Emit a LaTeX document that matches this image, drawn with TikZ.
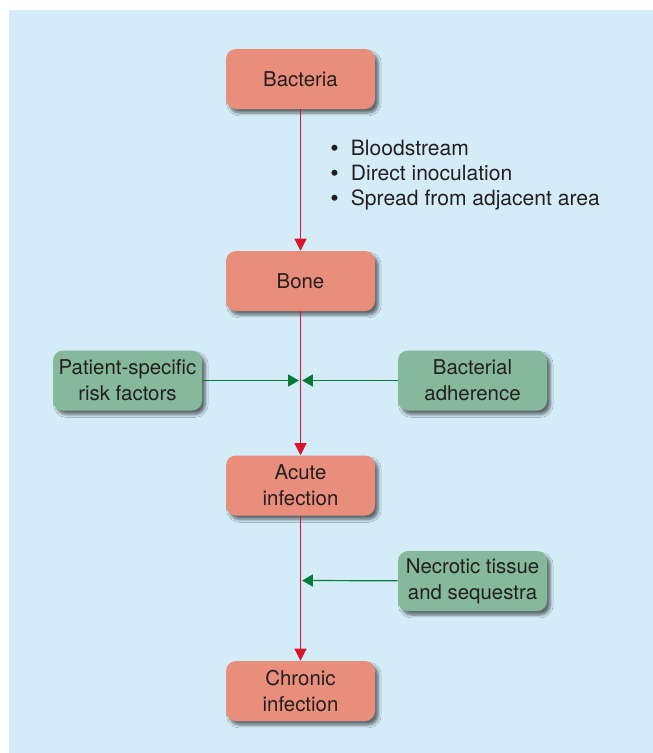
\documentclass[tikz,border=0pt]{standalone}
\usepackage{fontspec}
\setmainfont{TeX Gyre Heros}
\usetikzlibrary{arrows.meta,shadows.blur}

\definecolor{panelblue}{RGB}{212,236,248}
\definecolor{stagefill}{RGB}{233,142,122}
\definecolor{factorfill}{RGB}{134,184,155}
\definecolor{flowred}{RGB}{218,20,42}
\definecolor{flowgreen}{RGB}{10,122,58}
\definecolor{inktext}{RGB}{35,31,32}

\newcommand{\routebullet}{\makebox[15.5pt][l]{\raisebox{-0.4pt}{\fontsize{18}{18}\selectfont\textbullet}}}

\tikzset{
  stage/.style={rectangle, rounded corners=7.5pt, fill=stagefill, draw=none,
    minimum width=111.75pt, minimum height=45pt, align=center, text=inktext,
    font=\fontsize{15.3}{19.3}\selectfont,
    blur shadow={shadow xshift=2.5pt, shadow yshift=-3pt, shadow blur steps=6, shadow opacity=55}},
  factor/.style={stage, fill=factorfill},
  redflow/.style={draw=flowred, line width=0.9pt, -{Triangle[length=9pt,width=9pt]}},
  greenflow/.style={draw=flowgreen, line width=0.9pt, -{Triangle[length=8pt,width=9pt]}},
}

\begin{document}
\begin{tikzpicture}[x=0.75pt,y=0.75pt,yscale=-1,xscale=1]
	\useasboundingbox (0,0) rectangle (653,753);
	\fill[panelblue] (9,10) rectangle (653,753);

	% main chain
	\node[stage] (bacteria) at (300.5,79) {Bacteria};
	\node[stage] (bone) at (300.5,281) {Bone};
	\node[stage] (acute) at (300.5,485.5) {Acute\\infection};
	\node[stage] (chronic) at (300.5,691) {Chronic\\infection};

	% contributing factors
	\node[factor] (patient) at (127.5,380.5) {Patient-specific\\risk factors};
	\node[factor] (adherence) at (472.5,380.5) {Bacterial\\adherence};
	\node[factor] (necrotic) at (472.5,581) {Necrotic tissue\\and sequestra};

	% routes of entry
	\node[anchor=north west, inner sep=0pt, align=left, text=inktext,
	  font=\fontsize{15.8}{18.75}\selectfont] (routes) at (330,140)
	  {\routebullet Bloodstream\\
	   \routebullet Direct inoculation\\
	   \routebullet Spread from adjacent area};

	\coordinate (meetA) at (300.5,380.5);
	\coordinate (meetB) at (300.5,580.5);

	\draw[redflow] (bacteria) -- (bone);
	\draw[redflow] (bone) -- (acute);
	\draw[redflow] (acute) -- (chronic);

	\draw[greenflow, shorten >=1.2pt] (patient) -- (meetA);
	\draw[greenflow, shorten >=1.2pt] (adherence) -- (meetA);
	\draw[greenflow, shorten >=1.2pt] (necrotic) -- (meetB);
\end{tikzpicture}
\end{document}
